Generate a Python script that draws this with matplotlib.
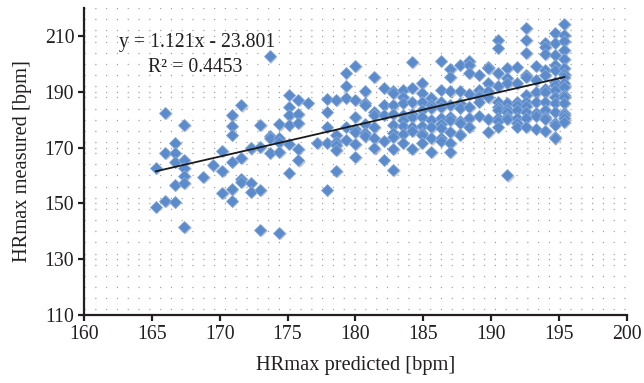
import numpy as np
import matplotlib
matplotlib.use('Agg')
import matplotlib.pyplot as plt
from matplotlib.ticker import MultipleLocator
from matplotlib import transforms

plt.rcParams['font.family'] = 'Liberation Serif'

hr_pred = [165.3] * 2 + [166.0] * 3 + [166.7] * 5 + [167.4] * 6 + [168.8, 169.5] + [170.2] * 3 \
    + [170.9] * 6 + [171.6] * 4 + [172.3] * 4 + [173.0] * 4 + [173.7] * 4 + [174.4] * 5 \
    + [175.1] * 6 + [175.8] * 5 + [176.5, 177.2] + [177.9] * 5 + [178.6] * 6 + [179.3] * 5 \
    + [180.0] * 7 + [180.7] * 6 + [181.4] * 6 + [182.1] * 5 + [182.8] * 9 + [183.5] * 8 \
    + [184.2] * 8 + [184.9] * 9 + [185.6] * 7 + [186.3] * 9 + [187.0] * 9 + [187.7] * 8 \
    + [188.4] * 7 + [189.1] * 6 + [189.8] * 7 + [190.5] * 10 + [191.2] * 9 + [191.9] * 8 \
    + [192.6] * 11 + [193.3] * 7 + [194.0] * 12 + [194.7] * 15 + [195.4] * 17

hr_meas = [162.6, 148.7,
           182.5, 168.0, 151.0,
           171.8, 168.0, 165.0, 156.6, 150.6,
           178.0, 165.6, 162.6, 159.8, 157.4, 141.6,
           159.4, 163.6,
           168.9, 161.6, 153.7,
           181.5, 177.9, 174.5, 165.0, 155.0, 150.8,
           185.1, 166.2, 158.8, 157.8,
           170.0, 169.7, 157.4, 154.0,
           178.1, 170.3, 154.8, 140.6,
           202.7, 174.0, 173.3, 168.0,
           178.3, 173.3, 172.0, 168.5, 139.5,
           189.0, 184.7, 181.5, 178.1, 171.3, 160.9,
           187.1, 182.0, 178.8, 169.4, 165.4,
           186.0, 171.8,
           187.5, 182.7, 177.5, 171.8, 154.8,
           187.1, 174.5, 172.1, 170.9, 169.3, 161.7,
           196.7, 192.1, 187.7, 177.5, 172.7,
           199.2, 187.1, 181.1, 176.6, 175.7, 171.3, 166.6,
           190.1, 185.9, 185.2, 178.5, 175.4, 174.0,
           195.2, 182.9, 181.7, 177.5, 173.3, 169.7,
           191.3, 185.3, 181.7, 172.5, 165.5,
           190.1, 189.5, 185.3, 182.2, 178.1, 175.1, 173.7, 169.4, 162.0,
           190.6, 188.0, 185.9, 181.7, 179.9, 177.7, 175.0, 171.7,
           200.6, 191.3, 186.2, 182.0, 181.0, 177.2, 176.0, 169.4,
           193.0, 189.5, 186.2, 183.5, 180.9, 177.7, 175.1, 174.5, 171.7,
           187.7, 185.3, 184.1, 179.9, 177.2, 173.3, 168.5,
           201.1, 190.6, 186.4, 184.4, 180.5, 178.5, 177.0, 173.3, 172.5,
           198.1, 195.4, 190.1, 185.3, 180.9, 179.9, 175.5, 171.6, 168.5,
           199.6, 190.2, 186.0, 184.1, 179.5, 178.7, 175.0, 174.5,
           201.1, 199.6, 196.9, 189.2, 184.5, 180.5, 177.5,
           196.0, 190.6, 188.9, 188.2, 186.5, 181.3,
           199.0, 198.4, 193.0, 190.1, 188.0, 180.3, 175.7,
           208.6, 205.6, 196.6, 191.9, 186.4, 184.4, 183.5, 180.5, 179.7, 177.5,
           198.6, 194.8, 193.0, 186.0, 184.0, 182.9, 180.9, 180.3, 160.0,
           199.0, 193.0, 186.4, 185.2, 183.5, 180.5, 178.7, 177.5,
           213.0, 208.6, 204.0, 196.0, 195.4, 188.9, 186.4, 184.8, 182.7, 180.5, 177.5,
           199.3, 194.2, 189.8, 186.5, 182.5, 181.3, 176.8,
           207.4, 206.2, 203.5, 197.8, 196.0, 191.0, 190.0, 186.2, 183.5, 181.1, 180.3, 176.0,
           211.0, 207.4, 203.3, 199.6, 197.8, 193.6, 192.5, 190.6, 188.1, 185.9, 182.9, 178.7,
           178.0, 173.9, 173.3,
           214.2, 210.5, 208.3, 205.0, 201.7, 198.5, 196.5, 195.4, 193.0, 191.8, 189.0, 188.2,
           185.9, 182.3, 181.7, 180.5, 179.3]

slope = 1.121
intercept = -23.801
r2 = 0.4453

fs = 14.2
ink = '#231F20'

fig = plt.figure(figsize=(6.44, 3.83), dpi=100)
ax = fig.add_axes([0.1304, 0.1775, 0.843, 0.8015])

# soft shadow under the diamonds
shadow = transforms.offset_copy(ax.transData, fig=fig, x=1.2, y=-1.2, units='dots')
ax.plot(hr_pred, hr_meas, 'D', markersize=6.4, color='#555555', alpha=0.3,
        markeredgewidth=0, transform=shadow, zorder=2)
ax.plot(hr_pred, hr_meas, 'D', markersize=6.4, markerfacecolor='#5B8BCB',
        markeredgecolor='#86A9DA', markeredgewidth=0.6, zorder=3)

x_fit = np.array([min(hr_pred), max(hr_pred)])
ax.plot(x_fit, slope * x_fit + intercept, color='#1a1a1a', linewidth=1.3, zorder=4)

ax.text(0.208, 0.889, f'y = {slope}x - {-intercept}', transform=ax.transAxes,
        ha='center', va='center', fontsize=fs, color=ink)
ax.text(0.205, 0.805, f'R\u00b2 = {r2}', transform=ax.transAxes,
        ha='center', va='center', fontsize=fs, color=ink)

ax.set_xlim(160, 200)
ax.set_ylim(110, 220)
ax.set_xticks(np.arange(160, 201, 5))
ax.set_yticks(np.arange(110, 211, 20))
ax.yaxis.set_minor_locator(MultipleLocator(4))
ax.grid(which='both', axis='y', color='#9a9a9a', linestyle=(0, (0.9, 7.74)), linewidth=0.9)
ax.set_axisbelow(True)

for side in ['top', 'right']:
    ax.spines[side].set_visible(False)
for side in ['left', 'bottom']:
    ax.spines[side].set_linewidth(1.6)
    ax.spines[side].set_color(ink)

ax.tick_params(which='major', direction='out', length=4, width=1.6, labelsize=fs,
               colors=ink, pad=3)
ax.tick_params(which='minor', length=0)

ax.set_xlabel('HRmax predicted [bpm]', fontsize=fs + 0.5, color=ink, labelpad=9)
ax.set_ylabel('HRmax measured [bpm]', fontsize=fs + 0.5, color=ink, labelpad=9)

fig.savefig('out.png', dpi=100)
